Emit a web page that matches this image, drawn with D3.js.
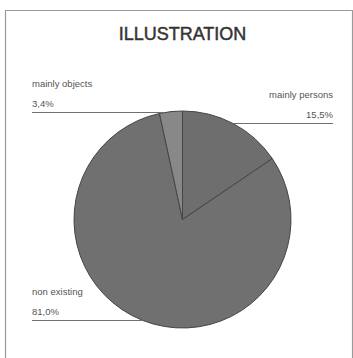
<!DOCTYPE html>
<html>
<head>
<meta charset="utf-8">
<script src="https://cdn.jsdelivr.net/npm/d3@7"></script>
<style>
  html, body { margin: 0; padding: 0; background: #fff; }
  svg { display: block; }
</style>
</head>
<body>
<svg id="chart" width="353" height="358"></svg>
<script>
// Share of illustrations by content type
const categories = ["mainly persons", "non existing", "mainly objects"];
const values = [15.5, 81.0, 3.4];
const valueLabels = ["15,5%", "81,0%", "3,4%"];
const sliceColors = ["#6e6e6e", "#707070", "#888888"];

const svg = d3.select("#chart");
const W = 353, H = 358;
const cx = 182.5, cy = 219.5, r = 108.5;

// frame
svg.append("path")
  .attr("d", `M5.5,${H} V10.5 H352.5 V${H}`)
  .attr("fill", "none")
  .attr("stroke", "#9a9a9a")
  .attr("stroke-width", 1.2);

svg.append("text")
  .attr("x", cx).attr("y", 40)
  .attr("text-anchor", "middle")
  .attr("font-family", "Liberation Sans, Arial, sans-serif")
  .attr("font-size", 18)
  .attr("fill", "#333")
  .attr("stroke", "#333")
  .attr("stroke-width", 0.45)
  .text("ILLUSTRATION");

const pie = d3.pie().sort(null).value(d => d.value);
const arcs = pie(categories.map((c, i) => ({ cat: c, value: values[i], label: valueLabels[i], color: sliceColors[i] })));
const arc = d3.arc().innerRadius(0).outerRadius(r);

const g = svg.append("g").attr("transform", `translate(${cx},${cy})`);
g.selectAll("path.slice").data(arcs).join("path")
  .attr("class", "slice")
  .attr("d", arc)
  .attr("fill", d => d.data.color)
  .attr("stroke", "#454545")
  .attr("stroke-width", 1);

// label layout: side and vertical position of the leader line for each slice
const labelLayout = {
  "mainly persons": { side: "right", lineY: 123.5, x: 333 },
  "non existing":   { side: "left",  lineY: 320.5, x: 32 },
  "mainly objects": { side: "left",  lineY: 112.5, x: 32 }
};

arcs.forEach(d => {
  const L = labelLayout[d.data.cat];
  const dy = L.lineY - cy;
  const dx = Math.sqrt(Math.max(0, r * r - dy * dy));
  const edgeX = L.side === "left" ? cx - dx : cx + dx;
  svg.append("line")
    .attr("x1", L.x).attr("x2", edgeX)
    .attr("y1", L.lineY).attr("y2", L.lineY)
    .attr("stroke", "#707070").attr("stroke-width", 1.2);
  const anchor = L.side === "left" ? "start" : "end";
  svg.append("text")
    .attr("x", L.x).attr("y", L.lineY - 26)
    .attr("text-anchor", anchor)
    .attr("font-family", "Liberation Sans, Arial, sans-serif")
    .attr("font-size", 9.5).attr("fill", "#555")
    .text(d.data.cat);
  svg.append("text")
    .attr("x", L.x).attr("y", L.lineY - 6)
    .attr("text-anchor", anchor)
    .attr("font-family", "Liberation Sans, Arial, sans-serif")
    .attr("font-size", 9.5).attr("fill", "#555")
    .text(d.data.label);
});
</script>
</body>
</html>
